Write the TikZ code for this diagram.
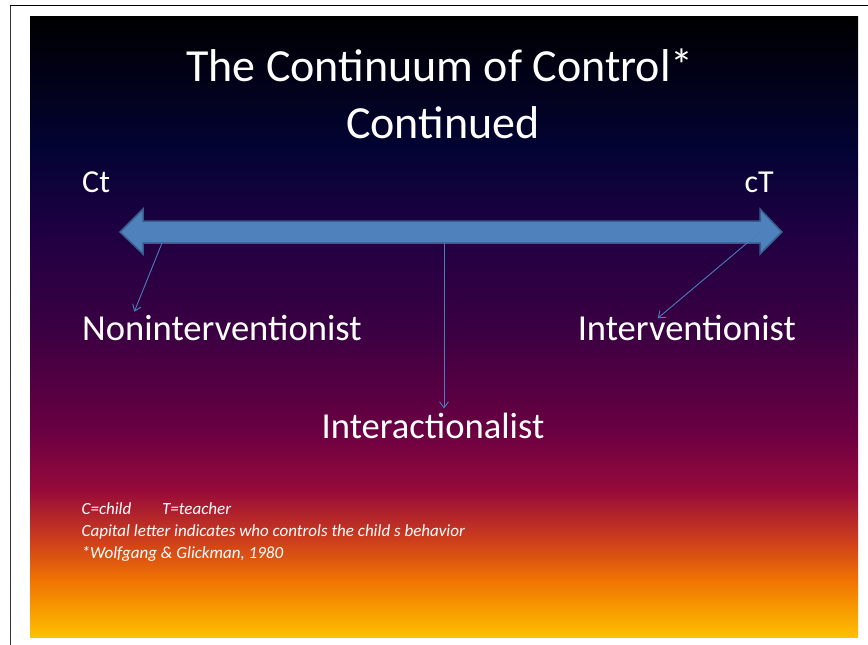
\documentclass[tikz,border=0pt]{standalone}
\usepackage{fontspec}
\setmainfont{Carlito}
\usetikzlibrary{arrows.meta}
\definecolor{c0}{RGB}{0,0,0}
\definecolor{c1}{RGB}{3,3,52}
\definecolor{c2}{RGB}{30,0,66}
\definecolor{c3}{RGB}{58,0,66}
\definecolor{c4}{RGB}{105,0,66}
\definecolor{c5}{RGB}{150,10,58}
\definecolor{c6}{RGB}{205,62,28}
\definecolor{c7}{RGB}{240,115,2}
\definecolor{c8}{RGB}{255,192,0}
\definecolor{barfill}{RGB}{79,129,189}
\definecolor{barline}{RGB}{56,93,138}
\definecolor{thinarrow}{RGB}{74,126,187}
\pgfdeclareverticalshading{slidebg}{100bp}{%
  color(0bp)=(c8);
  color(25bp)=(c8);
  color(29.59bp)=(c7);
  color(32.81bp)=(c6);
  color(36.84bp)=(c5);
  color(41.67bp)=(c4);
  color(49.72bp)=(c3);
  color(57.77bp)=(c2);
  color(64.21bp)=(c1);
  color(75bp)=(c0);
  color(100bp)=(c0)}
\tikzset{
  lbl/.style={text=white, inner sep=0pt, font=\fontsize{36.6}{42}\selectfont},
  endlbl/.style={text=white, inner sep=0pt, font=\fontsize{32}{38}\selectfont},
  ttl/.style={text=white, inner sep=0pt, font=\fontsize{46}{60}\selectfont, align=center},
  foot/.style={text=white, inner sep=0pt, font=\fontsize{17}{22}\selectfont\itshape},
  pointer/.style={draw=thinarrow, line width=0.9pt, -{Straight Barb[length=6pt,width=9pt]}},
  bigarrow/.style={fill=barfill, draw=barline, line width=1.5pt, line join=miter}
}
\begin{document}
\begin{tikzpicture}[x=1pt,y=-1pt]
\useasboundingbox (0,0) rectangle (868,645);
\fill[white] (0,0) rectangle (868,645);
% frame lines
\draw[black, line width=1.8pt] (10,5.5) -- (868,5.5);
\draw[black!80, line width=1.6pt] (10.5,5.5) -- (10.5,645);
% slide background
\shade[shading=slidebg] (30,16) rectangle (858,637);
% title
\node[ttl, anchor=base] (title1) at (440,81.7) {The Continuum of Control*};
\node[ttl, anchor=base] (title2) at (443,138) {Continued};
% end labels
\node[endlbl, anchor=base west] (ct) at (82,192) {Ct};
\node[endlbl, anchor=base east] (cT) at (774,192) {cT};
% big double arrow
\draw[bigarrow] (120,232) -- (143,209) -- (143,221) -- (760,221) -- (760,209)
  -- (782,232) -- (760,254) -- (760,243) -- (143,243) -- (143,254) -- cycle;
\coordinate (leftstart) at (162,243);
\coordinate (midstart) at (444,243);
\coordinate (rightstart) at (761.7,230.7);
\coordinate (leftend) at (134.3,311.7);
\coordinate (midend) at (444,408.5);
\coordinate (rightend) at (657.7,318.3);
% labels
\node[lbl, anchor=base west] (nonint) at (82,340) {Noninterventionist};
\node[lbl, anchor=base east] (interv) at (796,340) {Interventionist};
\node[lbl, anchor=base] (interact) at (433,438) {Interactionalist};
% pointers
\draw[pointer] (leftstart) -- (leftend);
\draw[pointer] (midstart) -- (midend);
\draw[pointer] (rightstart) -- (rightend);
% footer
\node[foot, anchor=base west] (f1) at (81.5,514) {C=child};
\node[foot, anchor=base west] (f1b) at (162,514) {T=teacher};
\node[foot, anchor=base west] (f2) at (81.5,536.5) {Capital letter indicates who controls the child s behavior};
\node[foot, anchor=base west] (f3) at (81.5,558.5) {*Wolfgang \& Glickman, 1980};
\end{tikzpicture}
\end{document}
